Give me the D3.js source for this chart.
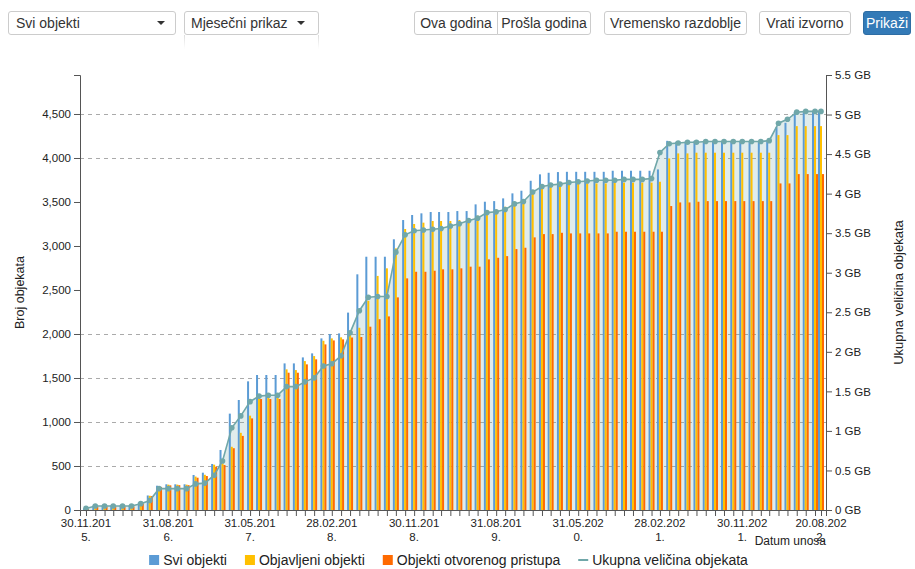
<!DOCTYPE html>
<html><head><meta charset="utf-8">
<script src="https://cdn.jsdelivr.net/npm/d3@7"></script>
<style>
body{margin:0;background:#fff;font-family:"Liberation Sans",Arial,sans-serif;}
#wrap{position:relative;width:915px;height:569px;overflow:hidden;background:#fff;}
.ctl{position:absolute;top:11px;height:24px;box-sizing:border-box;border:1px solid #ccc;background:#fff;color:#333;font-size:14px;line-height:22px;border-radius:3px;white-space:nowrap;}
.btn{text-align:center;}
.caret{position:absolute;top:9px;width:0;height:0;border-top:4px solid #333;border-left:4px solid transparent;border-right:4px solid transparent;}
.fade{position:absolute;top:35px;width:1px;height:14px;background:linear-gradient(#ddd,#fff);}
svg{position:absolute;left:0;top:0;}
</style></head>
<body><div id="wrap">
<div class="ctl" style="left:8px;width:168px;padding-left:7px;">Svi objekti<span class="caret" style="left:148px"></span></div>
<div class="ctl" style="left:184px;width:135px;padding-left:6px;">Mjesečni prikaz<span class="caret" style="left:112px"></span></div>
<div class="fade" style="left:184px"></div><div class="fade" style="left:318px"></div>
<div class="ctl btn" style="left:414px;width:84px;border-radius:3px 0 0 3px;">Ova godina</div>
<div class="ctl btn" style="left:497px;width:94px;border-radius:0 3px 3px 0;">Prošla godina</div>
<div class="ctl btn" style="left:604px;width:143px;">Vremensko razdoblje</div>
<div class="ctl btn" style="left:759px;width:92px;">Vrati izvorno</div>
<div class="ctl btn" style="left:863px;width:48px;background:#337ab7;border-color:#2e6da4;color:#fff;">Prikaži</div>
<svg id="chart" width="915" height="569"></svg>
</div>
<script>
const dates = [
"2015-11-30","2015-12-31",
"2016-01-31","2016-02-29","2016-03-31","2016-04-30","2016-05-31","2016-06-30","2016-07-31","2016-08-31","2016-09-30","2016-10-31","2016-11-30","2016-12-31",
"2017-01-31","2017-02-28","2017-03-31","2017-04-30","2017-05-31","2017-06-30","2017-07-31","2017-08-31","2017-09-30","2017-10-31","2017-11-30","2017-12-31",
"2018-01-31","2018-02-28","2018-03-31","2018-04-30","2018-05-31","2018-06-30","2018-07-31","2018-08-31","2018-09-30","2018-10-31","2018-11-30","2018-12-31",
"2019-01-31","2019-02-28","2019-03-31","2019-04-30","2019-05-31","2019-06-30","2019-07-31","2019-08-31","2019-09-30","2019-10-31","2019-11-30","2019-12-31",
"2020-01-31","2020-02-29","2020-03-31","2020-04-30","2020-05-31","2020-06-30","2020-07-31","2020-08-31","2020-09-30","2020-10-31","2020-11-30","2020-12-31",
"2021-01-31","2021-02-28","2021-03-31","2021-04-30","2021-05-31","2021-06-30","2021-07-31","2021-08-31","2021-09-30","2021-10-31","2021-11-30","2021-12-31",
"2022-01-31","2022-02-28","2022-03-31","2022-04-30","2022-05-31","2022-06-30","2022-07-31","2022-08-20"];

const sviObjekti = [20,50,50,50,50,50,85,165,276,292,292,292,398,424,523,682,
1095,1250,1462,1534,1534,1534,1666,1666,1734,1780,1950,2000,2007,2243,2678,2878,2878,2878,
3076,3295,3352,3371,3386,3386,3386,3397,3397,3473,3503,3510,3541,3598,3628,3741,3814,3832,
3840,3843,3843,3843,3843,3843,3855,3855,3855,3855,3855,3870,4195,4184,4184,4195,
4190,4190,4190,4190,4190,4190,4190,4190,4350,4400,4525,4525,4525,4525];

const objavljeniObjekti = [15,45,45,45,45,45,80,162,270,288,288,288,380,400,515,530,
718,877,1072,1287,1287,1287,1598,1590,1692,1749,1923,1950,1962,1990,2071,2378,2660,2746,
2973,3193,3250,3265,3284,3284,3284,3295,3295,3344,3371,3390,3446,3503,3522,3635,3673,3681,
3692,3700,3711,3711,3711,3711,3720,3720,3720,3720,3720,3730,3995,4052,4052,4060,
4060,4060,4060,4060,4060,4060,4060,4060,4260,4260,4362,4362,4362,4362];

const otvoreniObjekti = [10,40,40,40,40,40,75,158,262,280,282,282,367,386,492,511,
702,842,1041,1261,1261,1261,1560,1560,1655,1712,1882,1927,1939,1960,1966,2083,2168,2200,
2416,2632,2707,2707,2719,2735,2735,2746,2765,2765,2848,2866,2885,2965,2980,3098,3135,3135,
3150,3143,3143,3143,3143,3143,3162,3162,3162,3162,3162,3162,3454,3495,3495,3503,
3510,3510,3510,3510,3510,3510,3510,3510,3711,3711,3817,3817,3817,3817];

const velicinaGB = [0.02,0.05,0.05,0.05,0.05,0.05,0.08,0.12,0.27,0.27,0.27,0.27,0.33,0.34,0.44,0.62,
1.04,1.19,1.37,1.44,1.45,1.45,1.56,1.56,1.62,1.67,1.82,1.85,1.95,2.24,2.52,2.69,2.70,2.70,
3.26,3.48,3.53,3.54,3.55,3.56,3.59,3.62,3.66,3.69,3.76,3.77,3.80,3.87,3.90,4.02,4.09,4.11,
4.12,4.14,4.15,4.16,4.17,4.17,4.17,4.18,4.18,4.18,4.19,4.52,4.63,4.64,4.65,4.65,
4.66,4.66,4.66,4.66,4.66,4.66,4.66,4.67,4.89,4.94,5.03,5.04,5.04,5.04];

const leftTicks = [0,500,1000,1500,2000,2500,3000,3500,4000,4500];
const gridValues = [500,1000,1500,2000,4000,4500];
const rightTicks = [0,0.5,1,1.5,2,2.5,3,3.5,4,4.5,5,5.5];
const seriesNames = ["Svi objekti","Objavljeni objekti","Objekti otvorenog pristupa","Ukupna veličina objekata"];
const seriesColors = ["#5b9bd5","#ffc000","#ff6a00","#70a7a9"];
const axisTitles = {left:"Broj objekata", right:"Ukupna veličina objekata", x:"Datum unosa"};
const labelEvery = 9;

const svg = d3.select("#chart");
const L = 80, R = 826, T = 75, B = 510;
const parse = d3.timeParse("%Y-%m-%d");
const D = dates.map(parse);
const fmtDate = d3.timeFormat("%d.%m.%Y.");
const x = d3.scaleTime().domain([D[0], D[D.length-1]]).range([86, 821]);
const xAxisScale = x.copy().domain([x.invert(L), x.invert(R)]).range([L, R]);
const yL = d3.scaleLinear().domain([0, 4943]).range([B, T]);
const yR = d3.scaleLinear().domain([0, 5.5]).range([B, T]);
const FONT = '"Liberation Sans",Arial,sans-serif';

// grid
svg.append("g").selectAll("line").data(gridValues).join("line")
  .attr("x1", L).attr("x2", R).attr("y1", d => Math.round(yL(d)) + 0.5).attr("y2", d => Math.round(yL(d)) + 0.5)
  .attr("stroke", "#aaa").attr("stroke-dasharray", "4,4");

// area
const lineColor = seriesColors[3];
svg.append("path").datum(velicinaGB)
  .attr("fill", lineColor).attr("fill-opacity", 0.22)
  .attr("d", d3.area().x((d,i) => x(D[i])).y0(B).y1(d => yR(d)));

// bars
const bw = 2;
[sviObjekti, objavljeniObjekti, otvoreniObjekti].forEach((arr, s) => {
  svg.append("g").selectAll("rect").data(arr).join("rect")
    .attr("x", (d,i) => x(D[i]) - 1.5*bw + s*bw)
    .attr("width", bw)
    .attr("y", d => yL(d))
    .attr("height", d => B - yL(d))
    .attr("fill", seriesColors[s]);
});

// line + points
svg.append("path").datum(velicinaGB)
  .attr("fill", "none").attr("stroke", lineColor).attr("stroke-width", 1.6)
  .attr("d", d3.line().x((d,i) => x(D[i])).y(d => yR(d)));
svg.append("g").selectAll("circle").data(velicinaGB).join("circle")
  .attr("cx", (d,i) => x(D[i])).attr("cy", d => yR(d)).attr("r", 2.8)
  .attr("fill", lineColor);

// axes
const axisColor = "#555", textColor = "#222";
function styleAxis(g, fs) {
  g.selectAll("path,line").attr("stroke", axisColor);
  g.selectAll("text").attr("fill", textColor).style("font-size", fs).style("font-family", FONT);
}
const gl = svg.append("g").attr("transform", `translate(${L},0)`)
  .call(d3.axisLeft(yL).tickValues(leftTicks).tickFormat(d3.format(",")).tickSizeOuter(6));
styleAxis(gl, "11.5px");
const gr = svg.append("g").attr("transform", `translate(${R},0)`)
  .call(d3.axisRight(yR).tickValues(rightTicks).tickFormat(d => d + " GB").tickSizeOuter(6));
styleAxis(gr, "11.5px");
const gx = svg.append("g").attr("transform", `translate(0,${B})`)
  .call(d3.axisBottom(xAxisScale).tickValues(D).tickFormat("").tickSizeOuter(6));
styleAxis(gx, "11.5px");

// x tick labels (wrapped)
const lab = svg.append("g").selectAll("text").data(D.filter((d,i) => i % labelEvery === 0)).join("text")
  .attr("text-anchor", "middle").attr("fill", textColor)
  .style("font-size", "11.5px").style("font-family", FONT);
lab.append("tspan").attr("x", d => x(d)).attr("y", B + 17).text(d => fmtDate(d).slice(0, 9));
lab.append("tspan").attr("x", d => x(d)).attr("y", B + 31).text(d => fmtDate(d).slice(9));

// axis titles
svg.append("text").attr("transform", `translate(24,${(T+B)/2}) rotate(-90)`)
  .attr("text-anchor", "middle").attr("fill", textColor).style("font-size", "12.5px").style("font-family", FONT).text(axisTitles.left);
svg.append("text").attr("transform", `translate(903,${(T+B)/2}) rotate(-90)`)
  .attr("text-anchor", "middle").attr("fill", textColor).style("font-size", "13px").style("font-family", FONT).text(axisTitles.right);
svg.append("text").attr("x", R).attr("y", B + 35).attr("text-anchor", "end")
  .attr("fill", textColor).style("font-size", "12px").style("font-family", FONT).text(axisTitles.x);

// legend
const leg = svg.append("g");
const gap = 18;
let cx = 0;
seriesNames.forEach((n, i) => {
  const g = leg.append("g");
  if (i < 3) g.append("rect").attr("x", 0).attr("y", -5).attr("width", 10).attr("height", 10).attr("fill", seriesColors[i]);
  else g.append("line").attr("x1", 0).attr("x2", 10).attr("y1", 0).attr("y2", 0).attr("stroke", seriesColors[i]).attr("stroke-width", 2);
  const t = g.append("text").attr("x", 14).attr("y", 5).attr("fill", textColor)
    .style("font-size", "14px").style("font-family", FONT).text(n);
  const w = 14 + t.node().getComputedTextLength();
  g.attr("transform", `translate(${cx},560)`);
  cx += w + gap;
});
const totalW = cx - gap;
leg.attr("transform", `translate(${448.5 - totalW/2},0)`);
</script>
</body></html>
